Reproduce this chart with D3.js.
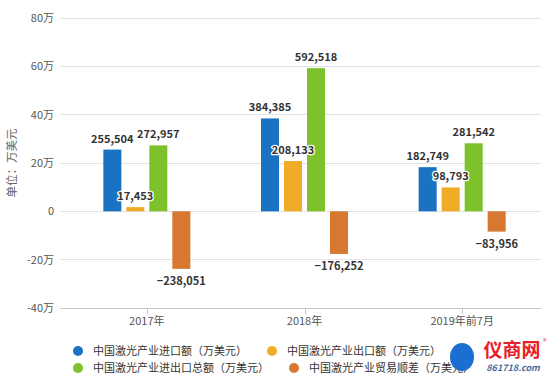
<!DOCTYPE html>
<html><head><meta charset="utf-8">
<script src="https://cdn.jsdelivr.net/npm/d3@7"></script>
<style>
html,body{margin:0;padding:0;background:#fff;}
text{font-family:"Noto Sans CJK SC","DejaVu Sans",sans-serif;}
</style></head>
<body><svg id="c" width="550" height="381"></svg>
<script>
const categories = ["2017年", "2018年", "2019年前7月"];
const seriesNames = ["中国激光产业进口额（万美元）", "中国激光产业出口额（万美元）", "中国激光产业进出口总额（万美元）", "中国激光产业贸易顺差（万美元）"];
const importVals = [255504, 384385, 182749];
const exportVals = [17453, 208133, 98793];
const totalVals = [272957, 592518, 281542];
const surplusVals = [-238051, -176252, -83956];
const yTicks = [-400000, -200000, 0, 200000, 400000, 600000, 800000];
const colors = ["#1a73c2", "#f0ab27", "#7dc22a", "#d6782f"];
const seriesVals = [importVals, exportVals, totalVals, surplusVals];

const svg = d3.select("#c");
const y = d3.scaleLinear().domain([-400000, 800000]).range([308, 18]);
const x0 = d3.scaleBand().domain(categories).range([68, 541]);
const x1 = d3.scaleBand().domain(d3.range(4)).range([-46, 46]).paddingInner(5/23).paddingOuter(5/46);

// grid
svg.append("g").selectAll("line").data(yTicks).join("line")
  .attr("x1", 60).attr("x2", 541)
  .attr("y1", d => y(d)).attr("y2", d => y(d))
  .attr("stroke", d => d === -400000 ? "#c8c8c8" : "#e3e3e3").attr("stroke-width", 1)
  .attr("shape-rendering", "crispEdges");

// y labels
svg.append("g").selectAll("text").data(yTicks).join("text")
  .attr("x", 54).attr("y", d => y(d)).attr("dy", "0.35em")
  .attr("text-anchor", "end").attr("font-size", 11).attr("fill", "#555")
  .text(d => d === 0 ? "0" : (d / 10000) + "万");

// y title
svg.append("text").attr("transform", "translate(16,163) rotate(-90)")
  .attr("text-anchor", "middle").attr("font-size", 11.5).attr("fill", "#666")
  .text("单位：万美元");

// x ticks & labels
const xg = svg.append("g");
xg.selectAll("line").data(categories).join("line")
  .attr("x1", d => Math.round(x0(d) + x0.bandwidth() / 2) + 0.5)
  .attr("x2", d => Math.round(x0(d) + x0.bandwidth() / 2) + 0.5)
  .attr("y1", 308).attr("y2", 314).attr("stroke", "#c8c8c8");
xg.selectAll("text").data(categories).join("text")
  .attr("x", d => x0(d) + x0.bandwidth() / 2).attr("y", 325)
  .attr("text-anchor", "middle").attr("font-size", 11).attr("fill", "#555")
  .text(d => d);

// bars
const data = [];
categories.forEach((c, i) => seriesVals.forEach((arr, s) => data.push({c, s, v: arr[i]})));
const cx = d => x0(d.c) + x0.bandwidth() / 2 + x1(d.s);
svg.append("g").selectAll("rect").data(data).join("rect")
  .attr("x", cx).attr("width", x1.bandwidth())
  .attr("y", d => Math.min(y(d.v), y(0)))
  .attr("height", d => Math.abs(y(d.v) - y(0)))
  .attr("fill", d => colors[d.s]);

// value labels
svg.append("g").selectAll("text").data(data).join("text")
  .attr("x", d => cx(d) + x1.bandwidth() / 2)
  .attr("y", d => d.v >= 0 ? y(d.v) - 7 : y(d.v) + 16)
  .attr("text-anchor", "middle").attr("font-size", 11).attr("font-weight", "bold")
  .attr("font-family", "'DejaVu Sans',sans-serif")
  .attr("fill", "#333").attr("stroke", "#fff").attr("stroke-width", 2.5)
  .attr("paint-order", "stroke").attr("stroke-linejoin", "round")
  .text(d => d3.format(",")(d.v));

// legend
const leg = svg.append("g").attr("font-size", 11);
const rows = [[0, 1], [2, 3]];
rows.forEach((r, ri) => {
  let xx = 73;
  r.forEach(s => {
    const g = leg.append("g").attr("transform", `translate(${xx},${351 + ri * 17})`);
    g.append("circle").attr("cx", 5).attr("cy", 0).attr("r", 5).attr("fill", colors[s]);
    const t = g.append("text").attr("x", 20).attr("y", 0).attr("dy", "0.35em")
      .attr("fill", "#333").text(seriesNames[s]);
    const w = t.node().getComputedTextLength();
    xx += 20 + w + 20;
  });
});

// brand mark
const b = svg.append("g");
b.append("ellipse").attr("cx", 462).attr("cy", 357).attr("rx", 12).attr("ry", 14).attr("fill", "#1a6fd0");
b.append("text").attr("x", 512).attr("y", 357).attr("text-anchor", "middle")
  .attr("font-size", 19).attr("font-weight", "bold").attr("fill", "#e8202a").text("仪商网");
b.append("text").attr("x", 545).attr("y", 344).attr("text-anchor", "middle")
  .attr("font-size", 7).attr("fill", "#e8202a").text("®");
b.append("text").attr("x", 513).attr("y", 371).attr("text-anchor", "middle")
  .attr("font-size", 9).attr("font-weight", "bold").attr("font-style", "italic")
  .attr("font-family", "'DejaVu Sans',sans-serif").attr("fill", "#4a6a9a").text("861718.com");
</script></body></html>
